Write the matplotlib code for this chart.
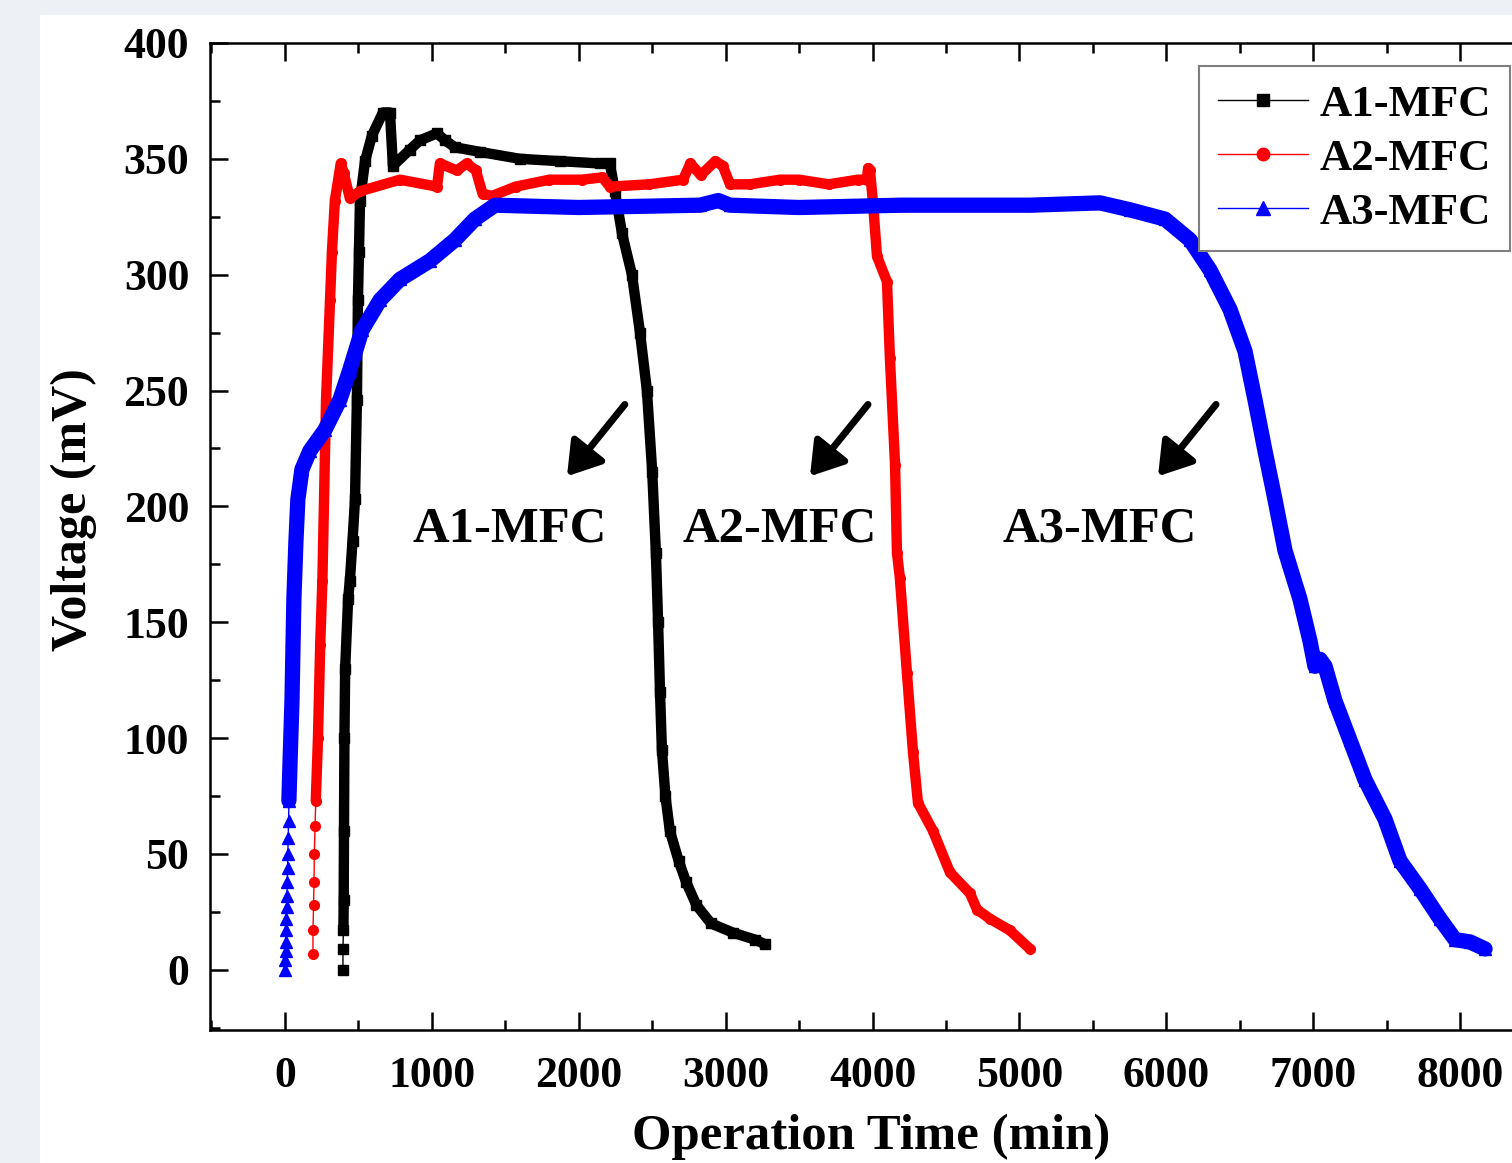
import matplotlib
matplotlib.use("Agg")
import matplotlib.pyplot as plt
from matplotlib.patches import Rectangle
from matplotlib.lines import Line2D
from matplotlib.ticker import MultipleLocator

plt.rcParams['font.family'] = ['Liberation Serif', 'DejaVu Serif']
plt.rcParams['font.weight'] = 'bold'

# ---------------- data ----------------
a1_x = [395, 395, 398, 400, 402, 405, 410, 430, 442, 460, 477, 490, 497, 504, 511, 545, 592,
        667, 715, 735, 851, 919, 1035, 1090, 1157, 1327, 1600, 1872, 2144, 2212, 2246, 2294,
        2362, 2417, 2464, 2500, 2525, 2540, 2553, 2566, 2590, 2620, 2680, 2730, 2800, 2900,
        3050, 3200, 3268]
a1_y = [0, 9, 17, 30, 60, 100, 130, 160, 168, 185, 203, 246, 289, 310, 332, 349, 360,
        370, 370, 347, 354, 358, 361, 358, 355, 353, 350, 349, 348, 348, 336, 318,
        300, 275, 250, 215, 180, 150, 120, 95, 75, 60, 47, 38, 28, 20,
        16, 13, 11]
a1_sparse = 3

a2_x = [191, 191, 195, 198, 200, 205, 210, 225, 240, 255, 280, 307, 320, 340, 380, 400, 442,
        510, 783, 1035, 1055, 1170, 1238, 1300, 1345, 1410, 1570, 1800, 2020, 2160, 2212,
        2480, 2710, 2760, 2830, 2930, 2980, 3030, 3165, 3370, 3500, 3700, 3900, 3960, 3970,
        3982, 4003, 4030, 4098, 4118, 4153, 4166, 4186, 4234, 4275, 4309, 4411, 4527, 4663,
        4711, 4799, 4935, 5071]
a2_y = [7, 17, 28, 38, 50, 62, 73, 100, 140, 168, 246, 289, 310, 332, 348, 344, 333,
        336, 341, 338, 348, 345, 348, 345, 335, 334, 338, 341, 341, 342, 338,
        339, 341, 348, 343, 349, 347, 339, 339, 341, 341, 339, 341, 341, 346,
        345, 331, 308, 297, 264, 218, 180, 169, 128, 94, 72, 60, 42, 33,
        26, 22, 17, 9]
a2_sparse = 7

a3_x = [0, 2, 4, 6, 8, 10, 12, 14, 16, 18, 20, 22, 25, 27, 35, 48, 55, 61, 75, 88, 116, 170,
        272, 374, 442, 524, 647, 783, 987, 1157, 1293, 1430, 2000, 2825, 2950, 3029, 3500,
        4200, 5071, 5548, 5752, 5990, 6161, 6297, 6433, 6535, 6603, 6671, 6739, 6807, 6909,
        6977, 7011, 7046, 7080, 7148, 7250, 7352, 7488, 7590, 7726, 7862, 7965, 8067, 8169]
a3_y = [0, 4, 8, 12, 17, 22, 27, 32, 38, 44, 50, 57, 64, 73, 90, 116, 140, 160, 185, 203, 216,
        224, 233, 246, 259, 276, 289, 298, 306, 315, 324, 330, 329, 330, 332, 330, 329,
        330, 330, 331, 328, 324, 315, 302, 285, 267, 246, 224, 203, 181, 160,
        142, 131, 134, 131, 116, 99, 82, 65, 47, 35, 22, 13, 12, 9]
a3_sparse = 14

series_labels = ['A1-MFC', 'A2-MFC', 'A3-MFC']
x_ticks = [0, 1000, 2000, 3000, 4000, 5000, 6000, 7000, 8000]
y_ticks = [0, 50, 100, 150, 200, 250, 300, 350, 400]

# annotations: label, text position, arrow tail, arrow head
ann_labels = ['A1-MFC', 'A2-MFC', 'A3-MFC']
ann_text_xy = [(1532, 190), (3370, 190), (5548, 190)]
ann_tail = [(2314, 244), (3969, 244), (6338, 244)]
ann_head = [(1920, 213), (3574, 213), (5943, 213)]

# ---------------- figure ----------------
W, H = 1512, 1163
fig = plt.figure(figsize=(W / 100, H / 100), dpi=100, facecolor='#edf1f6')
bg = fig.add_axes([40 / W, 0, 1 - 40 / W, 1 - 15 / H], zorder=-10)
bg.set_axis_off()
bg.add_patch(Rectangle((0, 0), 1, 1, transform=bg.transAxes, facecolor='white',
                       edgecolor='none'))

left, right, bottom, top = 210, 1545, 1030, 43
ax = fig.add_axes([left / W, 1 - bottom / H, (right - left) / W, (bottom - top) / H])
ax.set_facecolor('none')

colors = ['black', '#ff0000', '#0000ff']
markers = ['s', 'o', '^']
msizes = [7, 7, 8]
thick = [7.5, 7.5, 11]
data = [(a1_x, a1_y, a1_sparse), (a2_x, a2_y, a2_sparse), (a3_x, a3_y, a3_sparse)]

handles = []
for (xs, ys, ns), c, m, ms, lw, lab in zip(data, colors, markers, msizes, thick, series_labels):
    ax.plot(xs, ys, color=c, lw=1, marker=m, ms=ms, mec=c, mfc=c, zorder=3)
    ax.plot(xs[ns - 1:], ys[ns - 1:], color=c, lw=lw, solid_capstyle='round',
            solid_joinstyle='round', zorder=3)
    handles.append(Line2D([], [], color=c, lw=1, marker=m, ms=ms + 2, mec=c, mfc=c, label=lab))

ax.set_xlim(-510, 8577)
ax.set_ylim(-26, 400)
ax.set_xticks(x_ticks)
ax.set_yticks(y_ticks)
ax.xaxis.set_minor_locator(MultipleLocator(500))
ax.yaxis.set_minor_locator(MultipleLocator(25))
ax.tick_params(which='both', direction='in', top=True, right=True, width=1.8, colors='black')
ax.tick_params(which='major', length=13)
ax.tick_params(which='minor', length=7)
ax.tick_params(axis='x', which='major', labelsize=31.5, pad=19)
ax.tick_params(axis='y', which='major', labelsize=31.5, pad=15)
for lbl in ax.get_xticklabels() + ax.get_yticklabels():
    lbl.set_fontweight('bold')
for sp in ax.spines.values():
    sp.set_linewidth(1.8)

ax.set_xlabel('Operation Time (min)', fontsize=36.5, fontweight='bold')
ax.set_ylabel('Voltage (mV)', fontsize=36, fontweight='bold')
ax.xaxis.set_label_coords((871.5 - left) / (right - left), (bottom - 1114) / (bottom - top))
ax.yaxis.set_label_coords((97 - left) / (right - left), (bottom - 510) / (bottom - top))

for lab, txy, tail, head in zip(ann_labels, ann_text_xy, ann_tail, ann_head):
    ax.text(txy[0], txy[1], lab, fontsize=36.5, fontweight='bold', ha='center', va='center',
            zorder=4)
    ax.annotate('', xy=head, xytext=tail,
                arrowprops=dict(arrowstyle='-|>,head_length=0.7,head_width=0.45',
                                lw=5, color='black', mutation_scale=28, shrinkA=0, shrinkB=0),
                zorder=4)

leg = ax.legend(handles=handles, loc='upper right', bbox_to_anchor=(1510 / W, 1 - 66 / H),
                bbox_transform=fig.transFigure, borderaxespad=0,
                prop={'weight': 'bold', 'size': 32.2}, handlelength=2.0, handletextpad=0.27,
                labelspacing=0.30, borderpad=0.42, fancybox=False, framealpha=1,
                edgecolor='#7f7f7f', numpoints=1)
leg.get_frame().set_linewidth(1.5)

fig.savefig('out.png', dpi=100, facecolor=fig.get_facecolor())
